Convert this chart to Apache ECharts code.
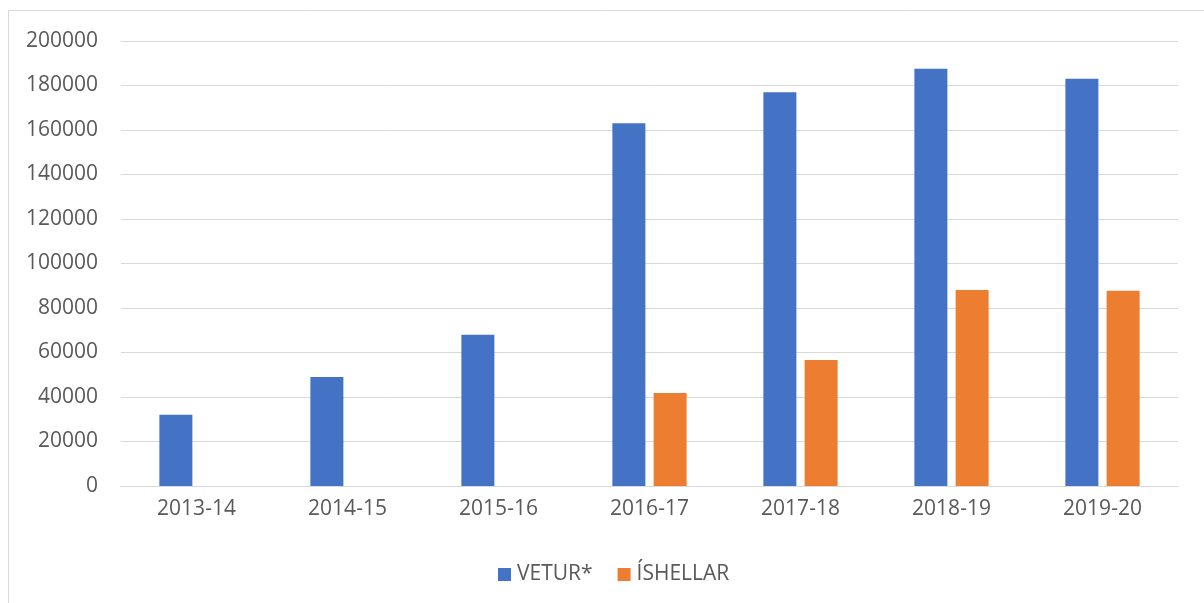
<!DOCTYPE html>
<html>
<head>
<meta charset="utf-8">
<script src="https://cdn.jsdelivr.net/npm/echarts@6/dist/echarts.min.js"></script>
<style>
html,body{margin:0;padding:0;background:#fff;}
#main{width:1204px;height:603px;}
</style>
</head>
<body>
<div id="main"></div>
<script>
const categories = ['2013-14','2014-15','2015-16','2016-17','2017-18','2018-19','2019-20'];
const vetur = [32000, 49000, 68000, 163000, 177000, 187500, 183000];
const ishellar = [null, null, null, 41800, 56600, 88100, 87800];
const seriesNames = ['VETUR*', 'ÍSHELLAR'];

const chart = echarts.init(document.getElementById('main'), null, {renderer: 'canvas'});
const font = '"Open Sans", "Liberation Sans", sans-serif';
chart.setOption({
  animation: false,
  backgroundColor: '#ffffff',
  graphic: [{
    type: 'rect',
    shape: {x: 8.5, y: 10.5, width: 1200, height: 600},
    style: {fill: 'none', stroke: '#d9d9d9', lineWidth: 1},
    silent: true
  }],
  grid: {left: 121, right: 26, top: 41, bottom: 117, containLabel: false},
  legend: {
    data: seriesNames,
    left: 493,
    top: 559,
    itemWidth: 13,
    itemHeight: 13,
    itemGap: 25,
    icon: 'rect',
    textStyle: {color: '#595959', fontSize: 21, fontFamily: font, padding: [0,0,0,1]}
  },
  xAxis: {
    type: 'category',
    data: categories,
    axisLine: {show: true, lineStyle: {color: '#d9d9d9', width: 1}},
    axisTick: {show: false},
    axisLabel: {color: '#595959', fontSize: 21, fontFamily: font, margin: 13}
  },
  yAxis: {
    type: 'value',
    min: 0,
    max: 200000,
    interval: 20000,
    axisLine: {show: false},
    axisTick: {show: false},
    splitLine: {lineStyle: {color: '#d9d9d9', width: 1}},
    axisLabel: {color: '#595959', fontSize: 21, fontFamily: font, margin: 23,
      formatter: function (v) { return String(v); }}
  },
  series: [
    {name: seriesNames[0], type: 'bar', data: vetur, barWidth: 33, barGap: '25%',
     itemStyle: {color: '#4472c4'}},
    {name: seriesNames[1], type: 'bar', data: ishellar, barWidth: 33, barGap: '25%',
     itemStyle: {color: '#ed7d31'}}
  ]
});
</script>
</body>
</html>
